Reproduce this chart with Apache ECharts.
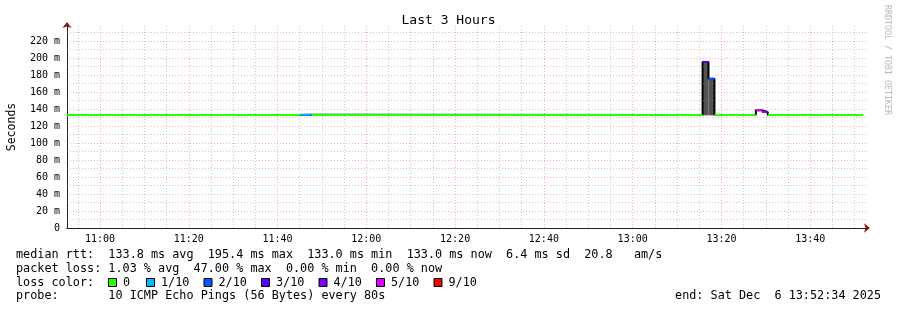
<!DOCTYPE html>
<html>
<head>
<meta charset="utf-8">
<script src="https://cdn.jsdelivr.net/npm/echarts@6/dist/echarts.min.js"></script>
<style>
html,body{margin:0;padding:0;background:#fff;}
#chart{width:897px;height:310px;}
</style>
</head>
<body>
<div id="chart"></div>
<script>
// ---- Data (time in minutes since midnight, values in ms) ----
const chartTitle = 'Last 3 Hours';
const startTime = 652 + 34 / 60;   // 10:52:34
const endTime = 832 + 34 / 60;     // 13:52:34
const xTickLabels = ['11:00', '11:20', '11:40', '12:00', '12:20', '12:40', '13:00', '13:20', '13:40'];
const yMax = 237.6;

// median segments (80 s steps merged where constant)
const segStart  = [652.57, 705.08, 707.75, 795.75, 797.08, 798.42, 807.75, 809.08, 810.42];
const segEnd    = [705.08, 707.75, 795.75, 797.08, 798.42, 807.75, 809.08, 810.42, 831.90];
const segMedian = [133.0, 133.2, 133.0, 195.4, 175.5, 133.0, 138.5, 136.5, 133.0];
const segLoss   = [0, 1, 0, 3, 2, 0, 5, 4, 0];   // index into lossLabels

// smoke (ping spread) bands
const smokeStart = [795.75, 797.08];
const smokeEnd   = [797.08, 798.42];
const smokeLow   = [132.5, 132.5];
const smokeHigh  = [195.4, 175.5];

const lossLabels = ['0', '1/10', '2/10', '3/10', '4/10', '5/10', '9/10'];
const lossColors = ['#26ff00', '#00b8ff', '#0059ff', '#5e00ff', '#7e00ff', '#dd00ff', '#ff0000'];

const legendRows = [
  'median rtt:  133.8 ms avg  195.4 ms max  133.0 ms min  133.0 ms now  6.4 ms sd  20.8   am/s',
  'packet loss: 1.03 % avg  47.00 % max  0.00 % min  0.00 % now',
  'loss color:',
  'probe:       10 ICMP Echo Pings (56 Bytes) every 80s'
];
const endText = 'end: Sat Dec  6 13:52:34 2025';
const watermark = 'RRDTOOL / TOBI OETIKER';

// ---- Build ----
const MONO = '"DejaVu Sans Mono", "Liberation Mono", monospace';
const toMin = s => { const p = s.split(':'); return (+p[0]) * 60 + (+p[1]); };
const labelTimes = xTickLabels.map(toMin);
const fmt = v => { const h = Math.floor(Math.round(v) / 60), m = Math.round(v) % 60; return String(h).padStart(2, '0') + ':' + String(m).padStart(2, '0'); };

const MAJOR = 'rgba(255,0,0,0.32)';
const MINOR = 'rgba(150,150,150,0.5)';
const gridLines = [];
for (let t = Math.ceil(startTime / 5) * 5; t < endTime; t += 5) {
  const major = t % 20 === 0;
  gridLines.push({ xAxis: t, lineStyle: { color: major ? MAJOR : MINOR, type: [1, 2], width: 1 } });
}
for (let v = 10; v < yMax; v += 10) {
  const major = v % 20 === 0;
  gridLines.push({ yAxis: v, lineStyle: { color: major ? MAJOR : MINOR, type: [1, 2], width: 1 } });
}

const stepData = [];
segStart.forEach((s, i) => { stepData.push([s, segMedian[i]], [segEnd[i], segMedian[i]]); });

const smokeData = smokeStart.map((s, i) => [s, smokeEnd[i], smokeLow[i], smokeHigh[i]]);

const lossSeries = lossLabels.map((lab, li) => {
  const data = [];
  segLoss.forEach((l, i) => {
    if (l === li) { data.push([segStart[i], segMedian[i]], [segEnd[i], segMedian[i]], [segEnd[i], null]); }
  });
  return {
    type: 'line', name: lab, data, showSymbol: false, connectNulls: false, silent: true,
    lineStyle: { color: lossColors[li], width: 2 }, z: 6, animation: false
  };
});

const graphics = [];
const rowY = [255, 268.5, 282.5, 296];
legendRows.forEach((txt, i) => {
  graphics.push({ type: 'text', x: 16, y: rowY[i], style: { text: txt, font: '11.8px ' + MONO, fill: '#000', verticalAlign: 'middle' } });
});
const boxX = [108.5, 146.5, 204, 261.5, 319, 376.5, 434];
lossLabels.forEach((lab, i) => {
  graphics.push({ type: 'rect', shape: { x: boxX[i], y: 278.5, width: 8, height: 8 }, style: { fill: lossColors[i], stroke: '#000', lineWidth: 1 } });
  graphics.push({ type: 'text', x: boxX[i] + 14.5, y: rowY[2], style: { text: lab, font: '11.8px ' + MONO, fill: '#000', verticalAlign: 'middle' } });
});
graphics.push({ type: 'text', x: 881, y: rowY[3], style: { text: endText, font: '11.8px ' + MONO, fill: '#000', align: 'right', verticalAlign: 'middle' } });
graphics.push({ type: 'text', x: 887.5, y: 60, rotation: -Math.PI / 2, style: { text: watermark, font: '8.3px ' + MONO, fill: '#b8b8b8', align: 'center', verticalAlign: 'middle' } });

const chart = echarts.init(document.getElementById('chart'), null, { renderer: 'canvas' });
chart.setOption({
  animation: false,
  backgroundColor: '#fff',
  title: { text: chartTitle, left: 'center', top: 9, textStyle: { fontFamily: MONO, fontSize: 13, fontWeight: 'normal', color: '#000' } },
  grid: { left: 67, right: 31, top: 26, bottom: 82, containLabel: false, outerBoundsMode: 'none' },
  xAxis: [
    {
      type: 'value', min: startTime, max: endTime, position: 'bottom', z: 3,
      axisLine: { show: true, onZero: false, lineStyle: { color: '#222', width: 1 } },
      axisTick: { show: false },
      splitLine: { show: false },
      axisLabel: { customValues: labelTimes, formatter: v => fmt(v), fontFamily: MONO, fontSize: 10, color: '#000', margin: 6 }
    },
    {
      type: 'value', min: startTime, max: endTime, position: 'bottom', z: 2,
      axisLine: { show: true, onZero: false, symbol: ['none', 'arrow'], symbolSize: [7, 6], symbolOffset: [0, 4], lineStyle: { color: '#8b1a1a', width: 1 } },
      axisTick: { show: false }, axisLabel: { show: false }, splitLine: { show: false }
    }
  ],
  yAxis: [
    {
      type: 'value', min: 0, max: yMax, interval: 10, position: 'left', z: 3,
      name: 'Seconds', nameLocation: 'middle', nameRotate: 90, nameGap: 49,
      nameTextStyle: { fontFamily: MONO, fontSize: 11.5, color: '#000' },
      axisLine: { show: true, onZero: false, lineStyle: { color: '#222', width: 1 } },
      axisTick: { show: false },
      splitLine: { show: false },
      axisLabel: {
        fontFamily: MONO, fontSize: 10, color: '#000', margin: 7, showMaxLabel: false,
        formatter: v => { const r = Math.round(v); if (r % 20 !== 0) return ''; return r === 0 ? '0' : r + ' m'; }
      }
    },
    {
      type: 'value', min: 0, max: yMax, position: 'left', z: 2,
      axisLine: { show: true, onZero: false, symbol: ['none', 'arrow'], symbolSize: [7, 6], symbolOffset: [0, 4], lineStyle: { color: '#8b1a1a', width: 1 } },
      axisTick: { show: false }, axisLabel: { show: false }, splitLine: { show: false }
    }
  ],
  graphic: graphics,
  series: [
    {
      type: 'line', name: 'grid', data: [[startTime, null]], showSymbol: false, silent: true, z: 1,
      markLine: { silent: true, symbol: 'none', label: { show: false }, animation: false, data: gridLines }
    },
    {
      type: 'custom', name: 'smoke', data: smokeData, z: 3, silent: true,
      encode: { x: [0, 1], y: [2, 3] },
      renderItem: (params, api) => {
        const p0 = api.coord([api.value(0), api.value(3)]);
        const p1 = api.coord([api.value(1), api.value(2)]);
        return { type: 'rect', shape: { x: p0[0], y: p0[1], width: p1[0] - p0[0], height: p1[1] - p0[1] }, style: { fill: '#525252' } };
      }
    },
    {
      type: 'line', name: 'median-step', data: stepData, showSymbol: false, silent: true, z: 4,
      lineStyle: { color: '#000', width: 2 }
    }
  ].concat(lossSeries)
});
</script>
</body>
</html>
